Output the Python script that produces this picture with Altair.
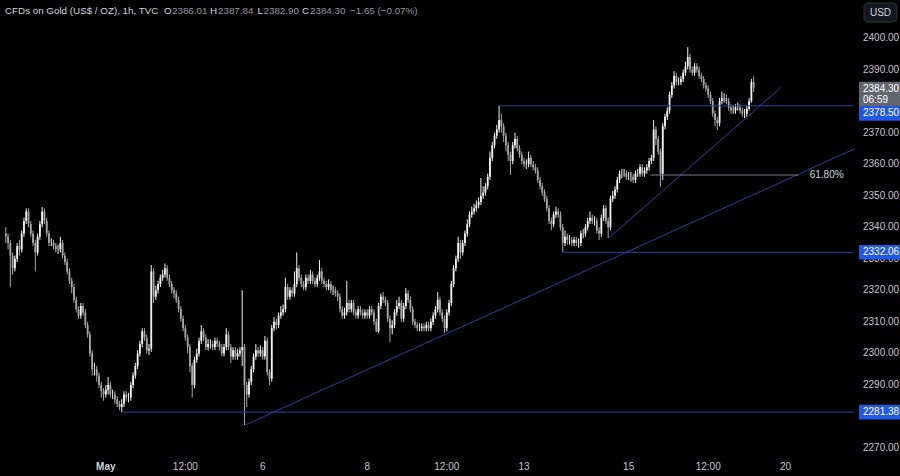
import altair as alt
import pandas as pd
import jinja2

# ---------------- data ----------------
FIRST_OPEN = 2338.0
C = [
    2337, 2335, 2331, 2327, 2330, 2334, 2333, 2338, 2342, 2345,
    2341, 2338, 2335, 2332, 2337, 2341, 2345, 2342, 2338, 2335,
    2335, 2334, 2333, 2333, 2335, 2331, 2329, 2326, 2323, 2321,
    2317, 2314, 2312, 2315, 2313, 2309, 2306, 2300, 2295, 2295,
    2293, 2290, 2288, 2287, 2288.5, 2290, 2287, 2287, 2285.5, 2284,
    2283, 2284, 2287, 2286, 2286, 2290, 2293, 2296, 2300, 2303,
    2307, 2305, 2301, 2301.5, 2326, 2318, 2320, 2322, 2324, 2325,
    2327, 2324, 2322, 2320, 2319, 2317, 2314, 2311, 2308, 2305,
    2302, 2296, 2290, 2298, 2300, 2304, 2307, 2305, 2302, 2303,
    2303, 2302, 2304, 2303, 2302, 2300, 2302, 2306, 2302, 2299,
    2301, 2299, 2300, 2301, 2302, 2290, 2287, 2291, 2295, 2299,
    2301, 2300, 2301, 2299, 2304, 2294, 2292, 2308, 2310, 2309,
    2312, 2313, 2314, 2321, 2318, 2320, 2319, 2322, 2327, 2324,
    2322, 2321, 2324, 2323, 2325, 2323, 2322, 2324, 2326, 2323,
    2322, 2321, 2322, 2320, 2320, 2319, 2318, 2314, 2312, 2313,
    2316, 2314, 2316, 2313, 2312, 2314, 2313, 2312, 2313, 2312,
    2314, 2313, 2310, 2307, 2315, 2318, 2317, 2316, 2311, 2308,
    2309, 2313, 2315, 2316, 2311, 2315, 2319, 2317, 2314, 2310,
    2309, 2308, 2308, 2308.5, 2308, 2309, 2308, 2310, 2312, 2314,
    2317, 2313, 2311, 2308, 2313, 2316, 2322, 2327, 2330, 2335,
    2332, 2335, 2338, 2341, 2344, 2345, 2346, 2347, 2348, 2350,
    2351, 2353, 2356, 2362, 2366, 2369, 2371, 2374, 2372, 2369,
    2366, 2363, 2361, 2366, 2368, 2365, 2363, 2361, 2360, 2360,
    2362, 2360, 2359, 2358, 2355, 2353, 2351, 2349, 2346, 2342,
    2341, 2344, 2345, 2344, 2340, 2335, 2337, 2336, 2336, 2335,
    2336, 2335, 2335, 2338, 2338, 2340, 2342, 2343, 2342, 2342,
    2339, 2338, 2343, 2346, 2342, 2340, 2349, 2350, 2352, 2355,
    2357, 2357, 2357, 2356, 2356, 2356, 2355, 2357, 2357, 2359,
    2357, 2358, 2359, 2361, 2362, 2371, 2368, 2364, 2357, 2372,
    2375, 2377, 2382, 2385, 2388, 2386, 2386, 2387, 2389, 2391,
    2394, 2390, 2389, 2391, 2390, 2388, 2387, 2385, 2384, 2382,
    2380, 2376, 2374, 2373, 2380, 2381, 2381, 2380, 2378, 2377,
    2377, 2378, 2378, 2377, 2376, 2376, 2377.5, 2380, 2386.01, 2384.30,
]
H = [
    2340, 2338, 2336, 2332, 2331, 2335, 2336, 2339, 2343, 2346,
    2346, 2342, 2339, 2336, 2338, 2342, 2346.4, 2346, 2343, 2339,
    2336.5, 2336, 2335, 2334.5, 2337, 2336, 2332, 2330, 2327, 2324,
    2322, 2318, 2315, 2316, 2316, 2314, 2310, 2307, 2301, 2297,
    2296, 2294, 2291, 2289, 2290, 2292.5, 2291, 2288.5, 2288, 2286.5,
    2285, 2285.5, 2288, 2288, 2287.5, 2291, 2294, 2297, 2301, 2304,
    2308, 2308, 2306, 2303, 2328, 2327, 2321.5, 2323, 2325, 2326.5,
    2328.5, 2328, 2325, 2323, 2321, 2320, 2318, 2315, 2312, 2309,
    2306, 2303, 2297, 2299, 2301.5, 2305, 2309, 2308, 2306, 2304.5,
    2304.5, 2304, 2305, 2305, 2304, 2303, 2303, 2308, 2307, 2303,
    2302, 2302, 2301.5, 2302, 2320, 2303, 2291, 2292, 2296, 2300,
    2303, 2302, 2302.5, 2302, 2305.5, 2305, 2295, 2309, 2311.5, 2311,
    2313, 2315, 2315.5, 2324, 2322, 2321, 2321, 2326, 2332, 2328,
    2325, 2323, 2325, 2325, 2326.5, 2326, 2324, 2325, 2329.6, 2327,
    2324, 2323, 2323.5, 2323, 2321.5, 2321, 2320, 2319, 2315, 2314.5,
    2323, 2317, 2317, 2317, 2314, 2315, 2315, 2314, 2314, 2314,
    2315, 2315, 2314, 2311, 2316, 2319, 2319.5, 2318, 2317, 2312,
    2310.5, 2314, 2317, 2318, 2317, 2316, 2320.7, 2320, 2318, 2315,
    2311, 2310, 2309.5, 2309.5, 2309.5, 2310, 2310, 2311, 2313, 2315,
    2319.5, 2318, 2314, 2312, 2314, 2317, 2323, 2328, 2331, 2337,
    2336, 2336, 2339, 2342.5, 2345, 2346.5, 2347.5, 2348.5, 2349.5, 2355.6,
    2353, 2354, 2357, 2364, 2367, 2370, 2372.5, 2378.5, 2376, 2373,
    2370, 2367, 2364, 2367, 2370, 2369, 2366, 2364, 2362, 2361.5,
    2364, 2363, 2361, 2360, 2359, 2356, 2354, 2352, 2350, 2347,
    2343, 2345, 2346.5, 2346, 2345, 2341, 2339, 2338, 2337.5, 2337,
    2337, 2337, 2336.5, 2339, 2339.5, 2341, 2343, 2345, 2344, 2343.5,
    2343, 2340, 2344, 2347, 2347, 2343, 2350, 2351.5, 2353, 2356,
    2358, 2358.5, 2358.5, 2358, 2357.5, 2357.5, 2357, 2358, 2358.5, 2360,
    2360, 2359, 2360, 2362, 2363, 2374, 2372, 2369, 2365, 2373,
    2376, 2378, 2383, 2386, 2389.5, 2389, 2387.5, 2388, 2390, 2392.5,
    2397.1, 2395, 2391, 2392, 2392, 2391, 2389, 2388, 2386, 2385,
    2383, 2381, 2377, 2375, 2381, 2383, 2382.5, 2382, 2381, 2379,
    2378.5, 2379, 2379.5, 2379, 2378, 2377.5, 2378.5, 2381, 2387, 2387.84,
]
L = [
    2335, 2333, 2321, 2325, 2326, 2329, 2331, 2332, 2337, 2341,
    2340, 2337, 2334, 2326, 2331, 2336, 2340, 2341, 2337, 2334,
    2334, 2333, 2332, 2331.5, 2332, 2330, 2328, 2325, 2322, 2319,
    2316, 2313, 2311, 2311, 2312, 2308, 2305, 2299, 2293, 2293,
    2291, 2289, 2286, 2285, 2286, 2287, 2286, 2285.5, 2284, 2283,
    2282, 2281.38, 2283, 2285, 2284.5, 2285, 2289, 2292, 2295, 2299,
    2302, 2304, 2300, 2299.5, 2300.5, 2316, 2317, 2319, 2321, 2323,
    2324, 2323, 2321, 2319, 2317.5, 2316, 2313, 2310, 2307, 2304,
    2300, 2294, 2286, 2289, 2297, 2299, 2303, 2304, 2301, 2301,
    2301.5, 2301, 2301, 2302, 2301, 2299, 2299, 2301, 2301, 2297,
    2298, 2298, 2298, 2299, 2296, 2277.3, 2283, 2286, 2290, 2294,
    2298, 2299, 2299, 2298, 2298, 2293, 2290, 2291, 2307, 2307.5,
    2308, 2311, 2312, 2313, 2317, 2317, 2318, 2318, 2321, 2323,
    2321, 2320, 2320, 2322, 2322, 2322, 2321, 2321, 2323, 2322,
    2321, 2320, 2320, 2319, 2318.5, 2318, 2316.5, 2313, 2311, 2311,
    2312, 2313, 2313, 2312, 2311, 2311, 2312, 2311, 2311, 2311,
    2311, 2312, 2309, 2306.8, 2306.5, 2314, 2316, 2315, 2310, 2303.6,
    2306, 2308, 2312, 2314, 2310, 2310, 2314, 2316, 2313, 2309,
    2308, 2307, 2307, 2307, 2307, 2307, 2307, 2307, 2309, 2311,
    2313, 2312, 2310, 2306.5, 2307, 2312, 2315, 2321, 2326, 2329,
    2330, 2331, 2334, 2337, 2340, 2343, 2344, 2345, 2346, 2347,
    2349, 2350, 2352, 2355, 2361, 2365, 2368, 2370, 2370, 2367,
    2364, 2361, 2356.6, 2360, 2365, 2364, 2362, 2360, 2359, 2358.5,
    2359, 2359, 2358, 2357, 2354, 2352, 2350, 2348, 2345, 2341,
    2339, 2340, 2343, 2343, 2339, 2332.06, 2334, 2334.5, 2334.5, 2334,
    2334, 2334, 2333.5, 2334, 2336.5, 2337, 2339, 2341, 2341, 2340.5,
    2338, 2336, 2337, 2342, 2341, 2336.6, 2339, 2348, 2349, 2351,
    2354, 2355.5, 2356, 2355, 2355, 2354.5, 2354, 2354, 2356, 2356,
    2356, 2356, 2357, 2358, 2360, 2361, 2366, 2363, 2352.8, 2355,
    2371, 2374, 2376, 2381, 2384, 2385, 2385, 2385, 2386, 2388,
    2390, 2389, 2388, 2388, 2389, 2387, 2386, 2384, 2383, 2381,
    2379, 2375, 2372, 2370.8, 2372, 2379, 2379.5, 2379, 2377, 2376,
    2376, 2376, 2377, 2376, 2375, 2374.6, 2375, 2377, 2379.5, 2382.90,
]

TICK_IDX = [44, 79, 113, 159, 194, 228, 274, 309, 343]
TICK_TEXT = ["May", "12:00", "6", "8", "12:00", "13", "15", "12:00", "20"]
# 2380.00 is entirely hidden behind the price boxes in the reference
Y_TICKS = [2270, 2280, 2290, 2300, 2310, 2320, 2330, 2340, 2350, 2360, 2370, 2390, 2400]

LEVELS = [2378.50, 2332.06, 2281.38]
LEVEL_START = [217, 245, 51]

TREND_I1 = [105.3, 265.3]
TREND_P1 = [2277.3, 2336.6]
TREND_I2 = [373.5, 341.0]
TREND_P2 = [2364.9, 2384.3]

FIB_LEVEL = 2356.56
FIB_START = 283.6
FIB_END = 348.8
FIB_LABEL = "61.80%"

TITLE = "CFDs on Gold (US$ / OZ), 1h, TVC"
COUNTDOWN = "06:59"
CHANGE = "\u22121.65 (\u22120.07%)"

# ---------------- layout / style ----------------
W, HT = 858, 455
XDOM = [-0.348, 372.7]
YDOM = [2267.79, 2412.05]
PPU = HT / (YDOM[1] - YDOM[0])
RIGHT_END = 373.1

FONT = "Liberation Sans, Arial, sans-serif"
BG = "#000000"
UP = "#f2f2f2"
DOWN = "#a8a8a8"
LINE_BLUE = "#2e3f9e"
BOX_BLUE = "#2258e6"
BOX_GREY = "#63666f"
AXIS_TXT = "#c3c6cd"
LIGHT = "#d1d4dc"
DIM = "#9598a1"
FS = 10

xs = alt.Scale(domain=XDOM, nice=False, zero=False)
ys = alt.Scale(domain=YDOM, nice=False, zero=False)

O = [FIRST_OPEN] + C[:-1]
df = pd.DataFrame({"i": list(range(len(C))), "o": O, "c": C, "h": H, "l": L})
col = alt.condition("datum.c >= datum.o", alt.value(UP), alt.value(DOWN))

wick = alt.Chart(df).mark_rule(strokeWidth=1).encode(
    x=alt.X("i:Q", scale=xs, axis=None),
    y=alt.Y("l:Q", scale=ys, axis=None),
    y2="h:Q",
    color=col,
)
body = alt.Chart(df).mark_bar(size=1.8).encode(
    x=alt.X("i:Q", scale=xs, axis=None),
    y=alt.Y("o:Q", scale=ys, axis=None),
    y2="c:Q",
    color=col,
)

lv = pd.DataFrame({"p": LEVELS, "s": LEVEL_START, "e": [RIGHT_END] * len(LEVELS)})
levels = alt.Chart(lv).mark_rule(color=LINE_BLUE, strokeWidth=1).encode(
    x=alt.X("s:Q", scale=xs, axis=None), x2="e:Q",
    y=alt.Y("p:Q", scale=ys, axis=None),
)

tr = pd.DataFrame({"i1": TREND_I1, "p1": TREND_P1, "i2": TREND_I2, "p2": TREND_P2})
trends = alt.Chart(tr).mark_rule(color=LINE_BLUE, strokeWidth=1).encode(
    x=alt.X("i1:Q", scale=xs, axis=None), x2="i2:Q",
    y=alt.Y("p1:Q", scale=ys, axis=None), y2="p2:Q",
)

fib = pd.DataFrame({"s": [FIB_START], "e": [FIB_END], "p": [FIB_LEVEL], "t": [FIB_LABEL]})
fib_line = alt.Chart(fib).mark_rule(color="#787b86", strokeWidth=1).encode(
    x=alt.X("s:Q", scale=xs, axis=None), x2="e:Q",
    y=alt.Y("p:Q", scale=ys, axis=None),
)
fib_text = alt.Chart(fib).mark_text(align="left", baseline="middle", dx=11, font=FONT,
                                    fontSize=FS, color=LIGHT).encode(
    x=alt.X("e:Q", scale=xs, axis=None),
    y=alt.Y("p:Q", scale=ys, axis=None),
    text="t:N",
)

# x-axis labels
tk = pd.DataFrame({"i": TICK_IDX, "t": TICK_TEXT})
tick_norm = alt.Chart(tk).transform_filter("datum.t != 'May'").mark_text(
    baseline="middle", font=FONT, fontSize=FS, color=AXIS_TXT).encode(
    x=alt.X("i:Q", scale=xs, axis=None), y=alt.value(467), text="t:N")
tick_bold = alt.Chart(tk).transform_filter("datum.t == 'May'").mark_text(
    baseline="middle", font=FONT, fontSize=FS, fontWeight="bold", color=LIGHT).encode(
    x=alt.X("i:Q", scale=xs, axis=None), y=alt.value(467), text="t:N")

# y-axis labels (right side)
yt = pd.DataFrame({"p": Y_TICKS, "t": [f"{v:.2f}" for v in Y_TICKS]})
ylabels = alt.Chart(yt).mark_text(align="left", baseline="middle", font=FONT,
                                  fontSize=FS, color=AXIS_TXT).encode(
    x=alt.value(863), y=alt.Y("p:Q", scale=ys, axis=None), text="t:N")

# right price boxes
last = C[-1]
bx = pd.DataFrame({
    "top": [last + 5.8 / PPU, LEVELS[0] - 0.2 / PPU, LEVELS[1] + 7.3 / PPU, LEVELS[2] + 7.3 / PPU],
    "bot": [last - 18.5 / PPU, LEVELS[0] - 14.9 / PPU, LEVELS[1] - 7.3 / PPU, LEVELS[2] - 7.3 / PPU],
    "f": [BOX_GREY, BOX_BLUE, BOX_BLUE, BOX_BLUE],
})
boxes = alt.Chart(bx).mark_rect().encode(
    x=alt.value(859), x2=alt.value(900),
    y=alt.Y("top:Q", scale=ys, axis=None), y2="bot:Q",
    color=alt.Color("f:N", scale=None),
)
bt = pd.DataFrame({
    "p": [last, last, LEVELS[0], LEVELS[1], LEVELS[2]],
    "t": [f"{last:.2f}", COUNTDOWN, f"{LEVELS[0]:.2f}", f"{LEVELS[1]:.2f}", f"{LEVELS[2]:.2f}"],
    "dy": [1.0, 12.5, 7.5, 0, 0],
})
box_text_layers = []
for k in range(len(bt)):
    box_text_layers.append(
        alt.Chart(bt.iloc[[k]]).mark_text(align="left", baseline="middle", font=FONT, fontSize=FS,
                                          color="#ffffff", dy=float(bt["dy"].iloc[k])).encode(
            x=alt.value(863), y=alt.Y("p:Q", scale=ys, axis=None), text="t:N")
    )

# header
HFS = 9.8
segs = [
    (TITLE, 5, LIGHT), ("O", 164, LIGHT), (f"{O[-1]:.2f}", 172, DIM),
    ("H", 210, LIGHT), (f"{H[-1]:.2f}", 218, DIM),
    ("L", 257.5, LIGHT), (f"{L[-1]:.2f}", 263.5, DIM),
    ("C", 302, LIGHT), (f"{C[-1]:.2f}", 310, DIM),
    (CHANGE, 350, DIM),
]
header_layers = []
for t, px, cc in segs:
    header_layers.append(
        alt.Chart(pd.DataFrame({"t": [t]})).mark_text(align="left", baseline="middle", font=FONT,
                                                      fontSize=HFS, color=cc).encode(
            x=alt.value(px), y=alt.value(11), text="t:N")
    )

# USD button
usd_box = alt.Chart(pd.DataFrame({"t": ["USD"]})).mark_rect(
    fill="#15171e", stroke="#30333d", strokeWidth=1, cornerRadius=4).encode(
    x=alt.value(864), x2=alt.value(897), y=alt.value(3), y2=alt.value(22))
usd_txt = alt.Chart(pd.DataFrame({"t": ["USD"]})).mark_text(
    align="center", baseline="middle", font=FONT, fontSize=FS, color=LIGHT).encode(
    x=alt.value(880.5), y=alt.value(12.5), text="t:N")

chart = alt.layer(
    wick, body, levels, trends, fib_line, fib_text, tick_norm, tick_bold, ylabels,
    boxes, *box_text_layers, *header_layers, usd_box, usd_txt,
).properties(
    width=W, height=HT,
    padding={"left": 0, "top": 0, "right": 42, "bottom": 21},
    autosize=alt.AutoSizeParams(type="none"),
    background=BG,
).configure_view(stroke=None)

TEMPLATE = jinja2.Template("""<!DOCTYPE html>
<html>
<head>
<meta charset="utf-8">
<style>
html, body { margin: 0; padding: 0; background: #000000; overflow: hidden; }
#{{ output_div }}.vega-embed { width: 100%; display: flex; }
</style>
<script type="text/javascript" src="{{ base_url }}/vega@{{ vega_version }}"></script>
<script type="text/javascript" src="{{ base_url }}/vega-lite@{{ vegalite_version }}"></script>
<script type="text/javascript" src="{{ base_url }}/vega-embed@{{ vegaembed_version }}"></script>
</head>
<body>
<div id="{{ output_div }}"></div>
<script>
(function(vegaEmbed) {
  var spec = {{ spec }};
  var embedOpt = {{ embed_options }};
  function showError(el, error) {
    el.innerHTML = '<div style="color:red;"><p>JavaScript Error: ' + error.message + '</p></div>';
    throw error;
  }
  const el = document.getElementById('{{ output_div }}');
  vegaEmbed("#{{ output_div }}", spec, embedOpt).catch(error => showError(el, error));
})(vegaEmbed);
</script>
</body>
</html>
""")

try:
    chart.save("out.html", embed_options={"renderer": "svg", "actions": False}, template=TEMPLATE)
except TypeError:
    chart.save("out.html", embed_options={"renderer": "svg", "actions": False})
